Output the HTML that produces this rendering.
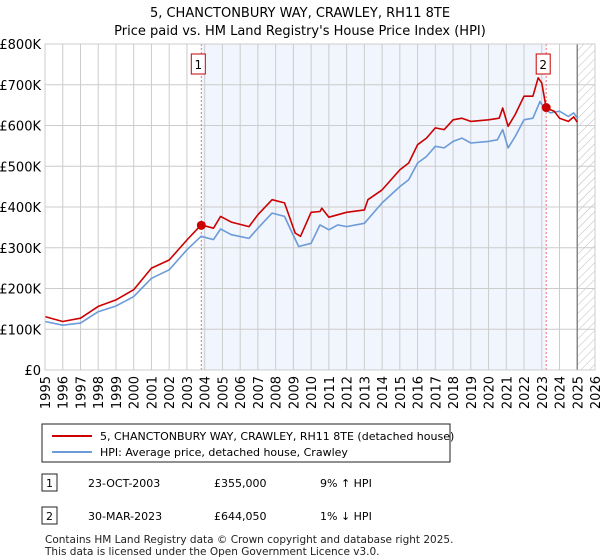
<!DOCTYPE html>
<html><head><meta charset="utf-8"><style>
body{margin:0;background:#fff;font-family:"Liberation Sans","DejaVu Sans",sans-serif;}
#wrap{position:relative;width:600px;height:560px;overflow:hidden;}
</style></head><body>
<div id="wrap">
<svg id="chart" width="600" height="560" style="position:absolute;left:0;top:0;font-family:'DejaVu Sans','Liberation Sans',sans-serif">
<defs><pattern id="hatch" width="6" height="6" patternUnits="userSpaceOnUse" patternTransform="rotate(45)"><line x1="0" y1="0" x2="0" y2="6" stroke="#bbb" stroke-width="1"/></pattern></defs>
<text x="300" y="17" text-anchor="middle" font-size="13">5, CHANCTONBURY WAY, CRAWLEY, RH11 8TE</text>
<text x="300" y="35" text-anchor="middle" font-size="13">Price paid vs. HM Land Registry's House Price Index (HPI)</text>
<g id="plot"></g>
</svg>
<svg width="600" height="560" style="position:absolute;left:0;top:0;font-family:'DejaVu Sans','Liberation Sans',sans-serif;font-size:11px">
<rect x="42" y="424" width="408" height="38" fill="#fff" stroke="#222"/>
<line x1="52" y1="436" x2="92" y2="436" stroke="#cc0000" stroke-width="2"/>
<text x="100" y="440">5, CHANCTONBURY WAY, CRAWLEY, RH11 8TE (detached house)</text>
<line x1="52" y1="452" x2="92" y2="452" stroke="#6b9bd8" stroke-width="2"/>
<text x="100" y="456">HPI: Average price, detached house, Crawley</text>
<g>
<rect x="42" y="474" width="15" height="17" fill="#fff" stroke="#222"/><text x="49.5" y="487" text-anchor="middle">1</text>
<text x="88" y="487">23-OCT-2003</text><text x="214" y="487">£355,000</text><text x="320" y="487">9% ↑ HPI</text></g>
<g>
<rect x="42" y="507" width="15" height="17" fill="#fff" stroke="#222"/><text x="49.5" y="520" text-anchor="middle">2</text>
<text x="88" y="520">30-MAR-2023</text><text x="214" y="520">£644,050</text><text x="320" y="520">1% ↓ HPI</text></g>
<text x="45" y="543" font-size="10.5" fill="#222">Contains HM Land Registry data © Crown copyright and database right 2025.</text>
<text x="45" y="555" font-size="10.5" fill="#222">This data is licensed under the Open Government Licence v3.0.</text>
</svg>
</div>
<script>
const hpiYears=[1995,1996,1997,1998,1999,2000,2001,2002,2003,2003.8,2004.5,2004.9,2005.5,2006.5,2007,2007.8,2008.5,2009,2009.3,2010,2010.5,2011,2011.5,2012,2013,2013.5,2014,2015,2015.5,2016,2016.5,2017,2017.5,2018,2018.5,2019,2020,2020.5,2020.8,2021.1,2021.5,2022,2022.5,2022.9,2023.2,2023.5,2024,2024.5,2024.8,2025];
const hpiValues=[119,110,115,143,157,180,225,246,295,328,320,346,332,323,348,385,377,330,303,311,356,344,356,352,360,385,410,450,467,508,524,549,545,561,569,557,561,565,590,545,573,614,618,659,639,631,635,622,631,618];
const priceYears=[1995,1996,1997,1998,1999,2000,2001,2002,2003,2003.8,2004.5,2004.9,2005.5,2006.5,2007,2007.8,2008.5,2009.1,2009.4,2010,2010.5,2010.6,2011,2012,2013,2013.2,2014,2015,2015.5,2016,2016.5,2017,2017.5,2018,2018.5,2019,2020,2020.6,2020.8,2021.1,2021.5,2022,2022.5,2022.8,2023.0,2023.25,2023.7,2024,2024.5,2024.8,2025];
const priceValues=[131,119,127,156,172,197,250,270,319,356,348,377,363,352,381,418,410,336,328,387,389,397,375,387,393,418,442,491,508,553,569,594,590,614,618,610,614,618,643,598,627,672,672,717,704,643,635,618,610,621,608];
const saleYears=[2003.81,2023.25];
const saleValues=[355,644.05];
const saleLabels=["1","2"];
const yTicks=[0,100,200,300,400,500,600,700,800];
const yTickLabels=["£0","£100K","£200K","£300K","£400K","£500K","£600K","£700K","£800K"];
const xTicks=[1995,1996,1997,1998,1999,2000,2001,2002,2003,2004,2005,2006,2007,2008,2009,2010,2011,2012,2013,2014,2015,2016,2017,2018,2019,2020,2021,2022,2023,2024,2025,2026];

const L=45,R=595,T=44,B=370,x0=1995,x1=2026,yMax=800;
const X=v=>L+(v-x0)/(x1-x0)*(R-L);
const Y=v=>B-v/yMax*(B-T);
const NS="http://www.w3.org/2000/svg";
const g=document.getElementById('plot');
function mk(tag,attrs){const e=document.createElementNS(NS,tag);for(const k in attrs)e.setAttribute(k,attrs[k]);g.appendChild(e);return e;}
let e;
e=mk('rect',{x:L,y:T,width:R-L,height:B-T,fill:'#fff'});


e=mk('rect',{x:X(saleYears[0]),y:T,width:X(saleYears[1])-X(saleYears[0]),height:B-T,fill:'#eef3fc',opacity:0.8});


e=mk('rect',{x:X(2025),y:T,width:R-X(2025),height:B-T,fill:'url(#hatch)'});


yTicks.forEach((t,i)=>{
 e=mk('line',{x1:L,x2:R,y1:Y(t),y2:Y(t),stroke:'#ccc','stroke-width':1});
 
 
 e=mk('text',{x:L-4,y:Y(t)+5,'text-anchor':'end','font-size':13});
 e.textContent=yTickLabels[i];
 
 
});
xTicks.forEach(t=>{
 e=mk('line',{x1:X(t),x2:X(t),y1:T,y2:B,stroke:'#ccc','stroke-width':1});
 
 
 e=mk('text',{x:0,y:0,'text-anchor':'end','font-size':13,transform:`translate(${X(t)+5},${B+6}) rotate(-90)`});
 e.textContent=t;
 
 
});
e=mk('line',{x1:X(2025),x2:X(2025),y1:T,y2:B,stroke:'#888','stroke-width':1.5});


saleYears.forEach((s,i)=>{
 e=mk('line',{x1:X(s),x2:X(s),y1:T,y2:B,stroke:'#f07070','stroke-width':1,'stroke-dasharray':'2,2'});
 
 
});
function path(xs,ys,color,name){
 e=mk('path',{d:xs.map((v,i)=>(i?'L':'M')+X(v).toFixed(1)+','+Y(ys[i]).toFixed(1)).join(''),fill:'none',stroke:color,'stroke-width':1.6,'stroke-linejoin':'round'});
 
 
}
path(hpiYears,hpiValues,'#6b9bd8','hpi-line');
path(priceYears,priceValues,'#cc0000','price-line');
saleYears.forEach((s,i)=>{
 e=mk('circle',{cx:X(s),cy:Y(saleValues[i]),r:4.5,fill:'#cc0000'});
 
 
 e=mk('rect',{x:X(s)-10,y:54,width:14,height:20,fill:'#fff',stroke:'#cc0000'});
 
 
 e=mk('text',{x:X(s)-3,y:69,'text-anchor':'middle','font-size':12});
 e.textContent=saleLabels[i];
 
 
});
e=mk('rect',{x:L,y:T,width:R-L,height:B-T,fill:'none',stroke:'#ccc'});


</script>
</body></html>
